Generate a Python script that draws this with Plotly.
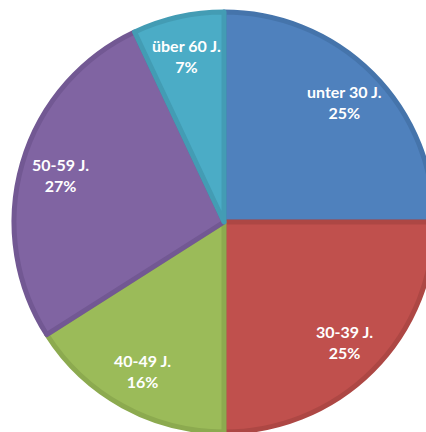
import math
import plotly.graph_objects as go

labels = ["unter 30 J.", "30-39 J.", "40-49 J.", "50-59 J.", "über 60 J."]
values = [25, 25, 16, 27, 7]
colors = ["#4F81BD", "#C0504D", "#9BBB59", "#8064A2", "#4BACC6"]
edges = ["#4574AB", "#AD4744", "#8CAA4F", "#725893", "#439CB4"]

fig = go.Figure(go.Pie(
    labels=labels,
    values=values,
    sort=False,
    direction="clockwise",
    rotation=0,
    marker=dict(colors=colors, line=dict(color=edges, width=5)),
    textinfo="none",
    showlegend=False,
    hoverinfo="skip",
    domain=dict(x=[0, 1], y=[0, 1]),
))

# label positions derived from the slice angles (clockwise from the top)
total = sum(values)
label_radius = 0.81
cum = 0
for lab, v in zip(labels, values):
    mid = (cum + v / 2) / total * 2 * math.pi
    cum += v
    fig.add_annotation(
        x=0.5 + 0.5 * label_radius * math.sin(mid),
        y=0.5 + 0.5 * label_radius * math.cos(mid),
        xref="paper", yref="paper",
        xanchor="center", yanchor="middle",
        text=f"{lab}<br>{round(v / total * 100)}%",
        showarrow=False,
        align="center",
        font=dict(family="Lato", size=16, color="white", weight="bold"),
    )

fig.update_layout(
    width=438, height=432,
    margin=dict(l=14, r=4, t=12, b=0),
    paper_bgcolor="white",
)
fig.write_html(
    "out.html",
    config={"displayModeBar": False},
    post_script="document.body.style.overflow='hidden';document.body.style.margin='0';",
)
